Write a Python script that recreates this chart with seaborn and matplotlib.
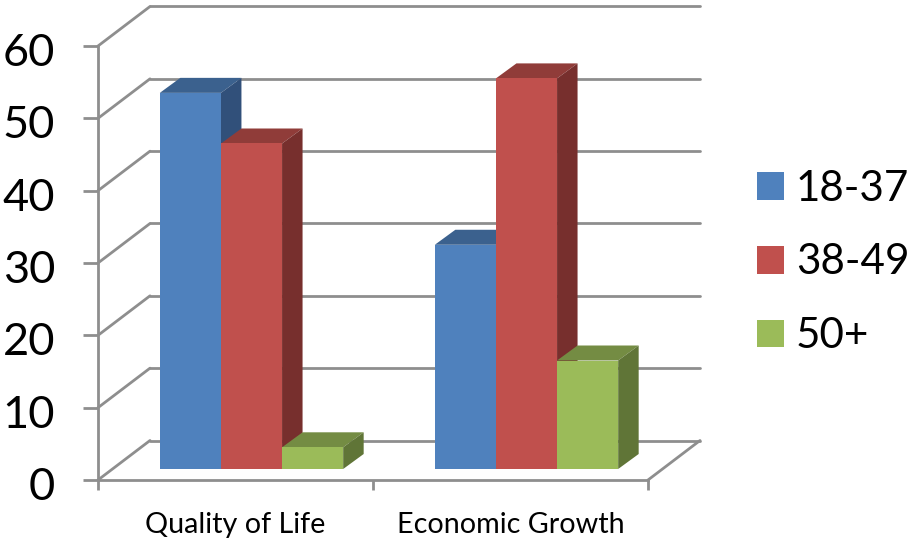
import matplotlib
matplotlib.use("Agg")
import matplotlib.pyplot as plt
from matplotlib.patches import Polygon, Patch
from matplotlib.transforms import Affine2D
import pandas as pd
import seaborn as sns

categories = ["Quality of Life", "Economic Growth"]
series_names = ["18-37", "38-49", "50+"]
values_18_37 = [52, 31]
values_38_49 = [45, 54]
values_50_plus = [3, 15]
y_ticks = [0, 10, 20, 30, 40, 50, 60]

front_colors = ["#4F81BD", "#C0504D", "#9BBB59"]
top_colors = ["#3B618E", "#903C39", "#748C43"]
side_colors = ["#31507A", "#772F2D", "#607537"]
line_color = "#8E8E8E"

sns.set_style("white")
plt.rcParams["font.family"] = ["Lato", "DejaVu Sans"]

df = pd.DataFrame({
    "category": categories * 3,
    "series": [s for s in series_names for _ in categories],
    "value": values_18_37 + values_38_49 + values_50_plus,
})

fig = plt.figure(figsize=(9.11, 5.38), dpi=100)
ax = fig.add_axes([98 / 911, (538 - 480) / 538, 550 / 911, 434 / 538])

sns.barplot(data=df, x="category", y="value", hue="series", hue_order=series_names,
            palette=front_colors, saturation=1, width=2 / 3, gap=0, errorbar=None,
            legend=False, ax=ax, zorder=5, linewidth=0)
ax.set_xlim(-0.5, 1.5)
ax.set_ylim(0, 60)

px_x = 275.0          # pixels per category
px_y = 434 / 60       # pixels per value unit
wall_dx, wall_dy = 52 / px_x, 39.5 / px_y
front_dx, front_dy = 16 / px_x, 11 / px_y
bar_dx, bar_dy = 20.5 / px_x, 15 / px_y

# back wall, floor and side wall
lw = 2.0
line = dict(color=line_color, lw=lw, clip_on=False, zorder=1, solid_capstyle="round")
x0, x1 = -0.5, 1.5
for v in y_ticks:
    ax.plot([x0 + wall_dx, x1 + wall_dx], [v + wall_dy, v + wall_dy], **line)
    ax.plot([x0, x0 + wall_dx], [v, v + wall_dy], **line)
ax.plot([x1, x1 + wall_dx], [0, wall_dy], **line)

# 3D bars from the bars seaborn drew
for s, container in enumerate(ax.containers):
    for c, bar in enumerate(container):
        x, w, h = bar.get_x(), bar.get_width(), bar.get_height()
        left, right, base = x + front_dx, x + w + front_dx, front_dy
        top = base + h
        bar.set_x(left)
        bar.set_y(base)
        bar.set_zorder(5 + s * 3 + 2)
        bar.set_clip_on(False)
        ax.add_patch(Polygon([(left, top), (right, top), (right + bar_dx, top + bar_dy),
                              (left + bar_dx, top + bar_dy)], closed=True,
                             fc=top_colors[s], ec="none", clip_on=False, zorder=5 + s * 3))
        ax.add_patch(Polygon([(right, base), (right + bar_dx, base + bar_dy),
                              (right + bar_dx, top + bar_dy), (right, top)], closed=True,
                             fc=side_colors[s], ec="none", clip_on=False, zorder=5 + s * 3 + 1))

# axes
for side in ["top", "right"]:
    ax.spines[side].set_visible(False)
for side in ["left", "bottom"]:
    ax.spines[side].set_color(line_color)
    ax.spines[side].set_linewidth(lw)
    ax.spines[side].set_zorder(2)

ax.set_xlabel("")
ax.set_ylabel("")
ax.set_yticks(y_ticks)
ax.set_yticklabels([str(v) for v in y_ticks])
ax.set_xticks([-0.5, 0.5, 1.5])
ax.set_xticklabels([])
ax.set_xticks([0, 1], minor=True)
ax.set_xticklabels(categories, minor=True)
ax.tick_params(axis="y", which="major", left=True, length=10.8, width=lw, color=line_color,
               labelsize=32.5, pad=20, labelcolor="black")
ax.tick_params(axis="x", which="major", bottom=True, length=7.2, width=lw, color=line_color)
ax.tick_params(axis="x", which="minor", bottom=False, length=0, labelsize=20.7, pad=23,
               labelcolor="black")
for label in ax.get_yticklabels():
    label.set_transform(label.get_transform() + Affine2D().translate(0, -3.5))

handles = [Patch(fc=col, ec="none") for col in front_colors]
fig.legend(handles, series_names, loc="center left", bbox_to_anchor=(757 / 911, 1 - 262.5 / 538),
           frameon=False, fontsize=30.3, handlelength=0.64, handleheight=0.64, handletextpad=0.28,
           labelspacing=0.85, borderpad=0, borderaxespad=0, labelcolor="black")

fig.savefig("out.png", dpi=100, facecolor="white")
